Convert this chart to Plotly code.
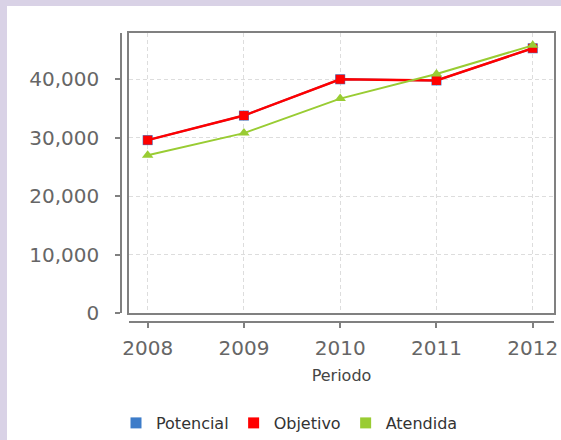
import plotly.graph_objects as go

periods = [2008, 2009, 2010, 2011, 2012]
period_labels = ["2008", "2009", "2010", "2011", "2012"]
potencial = [29600, 33800, 40000, 39800, 45300]
objetivo = [29600, 33800, 40000, 39800, 45300]
atendida = [27000, 30800, 36700, 40900, 45800]
y_ticks = [0, 10000, 20000, 30000, 40000]
y_tick_labels = ["0", "10,000", "20,000", "30,000", "40,000"]
series_names = ["Potencial", "Objetivo", "Atendida"]
series_colors = ["#3D7CC9", "#FF0000", "#99CC33"]

W, H = 561, 440
def px(v):
    return v / W
def py(v):
    return (H - v) / H

xr = [2007.806, 2012.221]
yr = [0, 47860]
xdom = [px(129), px(554)]
ydom = [py(313.3), py(33.3)]

fig = go.Figure()

# invisible trace so the offset (overlaying) axes get drawn
fig.add_trace(go.Scatter(x=periods, y=potencial, xaxis="x2", yaxis="y2", mode="lines",
                         opacity=0, hoverinfo="skip", showlegend=False))

fig.add_trace(go.Scatter(x=periods, y=potencial, mode="lines+markers", name="Potencial",
                         line=dict(color=series_colors[0], width=2),
                         marker=dict(symbol="square", size=10, color=series_colors[0]),
                         showlegend=False, cliponaxis=False))
fig.add_trace(go.Scatter(x=periods, y=objetivo, mode="lines+markers", name="Objetivo",
                         line=dict(color=series_colors[1], width=2.5),
                         marker=dict(symbol="square", size=9, color=series_colors[1]),
                         showlegend=False, cliponaxis=False))
fig.add_trace(go.Scatter(x=periods, y=atendida, mode="lines+markers", name="Atendida",
                         line=dict(color=series_colors[2], width=2),
                         marker=dict(symbol="triangle-up", size=10, color=series_colors[2]),
                         showlegend=False, cliponaxis=False))

for name, color in zip(series_names, series_colors):
    fig.add_trace(go.Scatter(x=[None], y=[None], mode="markers", name=name,
                             marker=dict(symbol="square", size=11, color=color),
                             showlegend=True))

tickfont = dict(family="DejaVu Sans", size=20, color="#666666")

fig.update_layout(
    width=W, height=H, autosize=False,
    margin=dict(l=0, r=0, t=0, b=0, pad=0),
    paper_bgcolor="#D9D2E6",
    plot_bgcolor="white",
    xaxis=dict(domain=xdom, range=xr, tickvals=periods, showticklabels=False,
               showgrid=True, gridcolor="#DDDDDD", griddash="4px,3px", gridwidth=1,
               showline=True, mirror=True, linecolor="#808080", linewidth=1.5,
               zeroline=False, ticks="", anchor="y", automargin=False),
    yaxis=dict(domain=ydom, range=yr, tickvals=y_ticks, showticklabels=False,
               showgrid=True, gridcolor="#DDDDDD", griddash="4px,3px", gridwidth=1,
               showline=True, mirror=True, linecolor="#808080", linewidth=1.5,
               zeroline=False, ticks="", anchor="x", automargin=False),
    xaxis2=dict(overlaying="x", anchor="free", position=py(322.3), domain=xdom, range=xr,
                tickvals=periods, ticktext=period_labels, tickfont=tickfont,
                ticks="outside", ticklen=5, tickcolor="#808080", tickwidth=1.5,
                showline=True, linecolor="#808080", linewidth=1.5, showgrid=False,
                zeroline=False, side="bottom", ticklabelstandoff=3, automargin=False,
                title=dict(text="Periodo", standoff=10,
                           font=dict(family="DejaVu Sans", size=16, color="#444444"))),
    yaxis2=dict(overlaying="y", anchor="free", position=px(121), domain=ydom, range=yr,
                tickvals=y_ticks, ticktext=y_tick_labels, tickfont=tickfont,
                ticks="outside", ticklen=5, tickcolor="#808080", tickwidth=1.5,
                showline=True, linecolor="#808080", linewidth=1.5, showgrid=False,
                zeroline=False, side="left", ticklabelstandoff=12, automargin=False),
    legend=dict(orientation="h", x=px(116), xanchor="left", y=0.0, yanchor="bottom",
                font=dict(family="DejaVu Sans", size=16, color="#333333"),
                bgcolor="rgba(0,0,0,0)", itemclick=False),
    shapes=[dict(type="rect", xref="paper", yref="paper", x0=px(7), x1=1.0, y0=0, y1=py(6),
                 fillcolor="white", line=dict(width=0), layer="below")],
)

fig.write_html("out.html", config={"responsive": False, "displayModeBar": False},
               post_script="document.body.style.margin='0';document.body.style.overflow='hidden';")
